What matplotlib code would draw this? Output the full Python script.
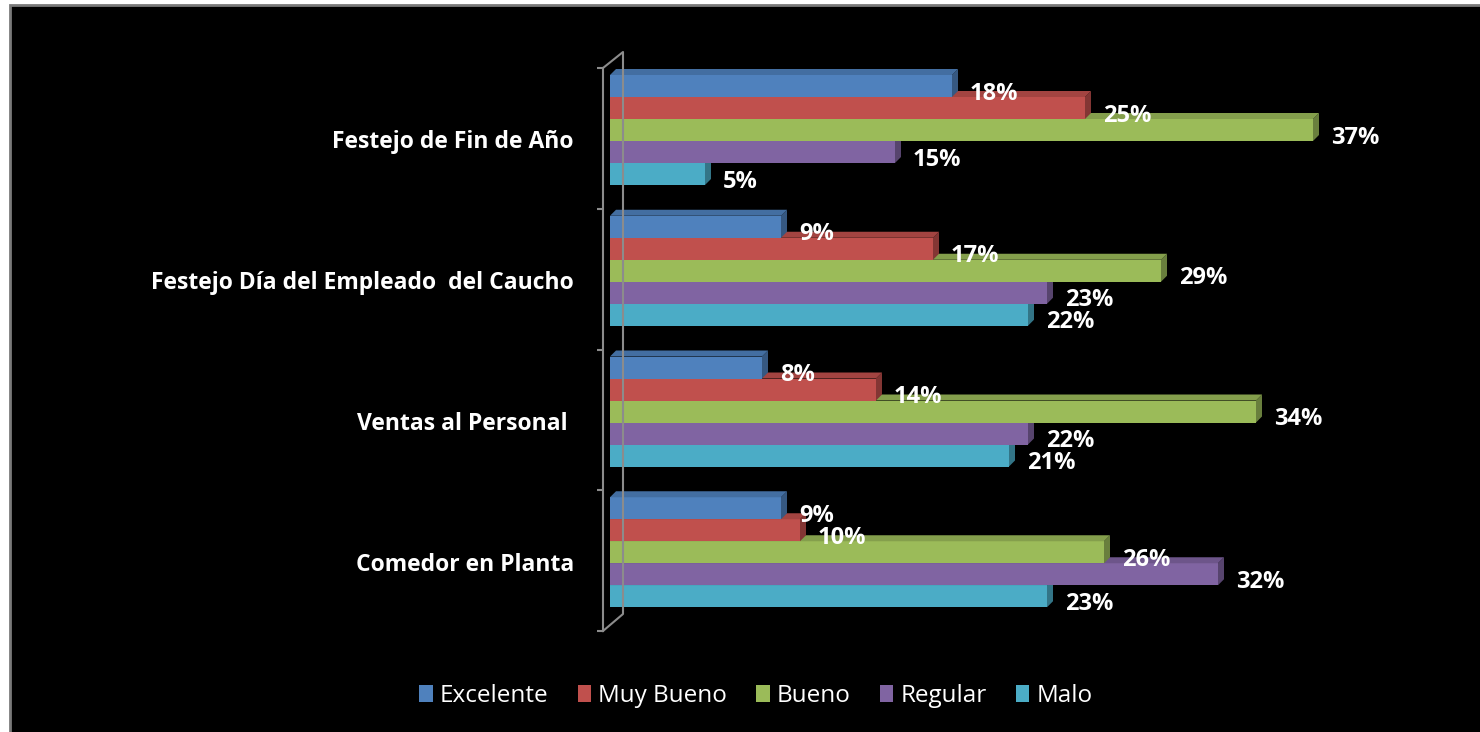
import matplotlib.pyplot as plt
from matplotlib.patches import Polygon, Patch, Rectangle
from matplotlib.lines import Line2D
from matplotlib.transforms import blended_transform_factory
import matplotlib.colors as mcolors

categories = [
    "Festejo de Fin de Año",
    "Festejo Día del Empleado  del Caucho",
    "Ventas al Personal ",
    "Comedor en Planta",
]
series = ["Excelente", "Muy Bueno", "Bueno", "Regular", "Malo"]
excelente = [18, 9, 8, 9]
muy_bueno = [25, 17, 14, 10]
bueno = [37, 29, 34, 26]
regular = [15, 23, 22, 32]
malo = [5, 22, 21, 23]
values = [excelente, muy_bueno, bueno, regular, malo]
colors = ["#4F81BD", "#C0504D", "#9BBB59", "#8064A2", "#4BACC6"]

plt.rcParams["font.family"] = ["Open Sans", "DejaVu Sans"]

W, H = 1480, 732
fig = plt.figure(figsize=(W / 100, H / 100), dpi=100, facecolor="white")

# black panel with grey frame (open to right/bottom)
fig.add_artist(Rectangle((10 / W, -0.1), 1.2, (H - 5) / H + 0.1,
                         transform=fig.transFigure, facecolor="black",
                         edgecolor="#7a7a7a", linewidth=2, zorder=0))

# axes placement in pixels
ax_left, ax_top, ax_bottom, ax_w = 610, 68, 631, 800
ppu = 19.0  # pixels per percent
ax = fig.add_axes([ax_left / W, (H - ax_bottom) / H, ax_w / W, (ax_bottom - ax_top) / H])
ax.set_facecolor("none")
ax.set_xlim(0, ax_w / ppu)
ax.set_ylim(4, 0)

grp_px = (ax_bottom - ax_top) / 4.0
bar_h = 22.0 / grp_px
top_off = 7.0 / grp_px
dx = 6.0 / ppu
dy = 6.0 / grp_px

def fx(px):
    return px / W

def fy(py):
    return (H - py) / H

# back wall line of the 3D axis
wall = "#8c8c8c"
fig.add_artist(Line2D([fx(603), fx(623), fx(623), fx(603)],
                      [fy(ax_top), fy(ax_top - 16), fy(ax_bottom - 17), fy(ax_bottom)],
                      transform=fig.transFigure, color=wall, lw=1.5, zorder=1))

for j, (name, vals, col) in enumerate(zip(series, values, colors)):
    z = 10 - j
    tops = [i + top_off + bar_h * j for i in range(len(categories))]
    centers = [t + bar_h / 2 for t in tops]
    ax.barh(centers, vals, height=bar_h, color=col, zorder=z, label=name)
    rgb = mcolors.to_rgb(col)
    side = tuple(c * 0.68 for c in rgb)
    topc = tuple(c * 0.85 for c in rgb)
    for t, v in zip(tops, vals):
        b = t + bar_h
        ax.add_patch(Polygon([(v, t), (v + dx, t - dy), (v + dx, b - dy), (v, b)],
                             closed=True, facecolor=side, edgecolor="none", zorder=z))
        ax.add_patch(Polygon([(0, t), (dx, t - dy), (v + dx, t - dy), (v, t)],
                             closed=True, facecolor=topc, edgecolor="none", zorder=z))
        ax.annotate(f"{v}%", xy=(v, t + bar_h / 2), xytext=(13, -5.5),
                    textcoords="offset points", ha="left", va="center",
                    color="white", fontsize=17, fontweight="bold", zorder=20)

# axis styling
for s in ["top", "right", "bottom"]:
    ax.spines[s].set_visible(False)
ax.spines["left"].set_position(("outward", 5))
ax.spines["left"].set_color(wall)
ax.spines["left"].set_linewidth(1.5)
ax.set_yticks(range(5))
ax.set_yticklabels([])
ax.tick_params(axis="y", length=4.5, width=1.5, color=wall, direction="out")
ax.set_xticks([])

trans = blended_transform_factory(ax.transAxes, ax.transData)
for i, cat in enumerate(categories):
    ax.text((574 - ax_left) / ax_w, i + 0.5 + 4 / grp_px, cat, transform=trans,
            ha="right", va="center", color="white", fontsize=16.5, fontweight="bold")

handles = [Patch(facecolor=c, edgecolor="none") for c in colors]
fig.legend(handles, series, loc="center", bbox_to_anchor=(756 / W, 1 - 696 / H),
           ncol=5, frameon=False, fontsize=17.5, labelcolor="white",
           handlelength=0.55, handleheight=0.7, handletextpad=0.3, columnspacing=1.2)

fig.savefig("out.png", dpi=100, facecolor=fig.get_facecolor())
